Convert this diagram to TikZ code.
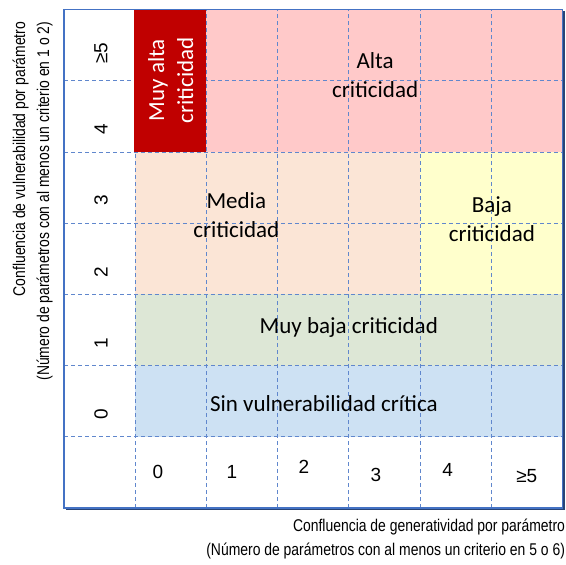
\documentclass[tikz,border=0pt]{standalone}
\usepackage{fontspec}
\setmainfont{Carlito}
\newfontfamily\arialfont{Liberation Sans}
\newfontfamily\narrowfont{Liberation Sans}[FakeStretch=0.82]
\usetikzlibrary{positioning}
\definecolor{gridblue}{RGB}{68, 114, 196}
\definecolor{muyalta}{RGB}{192, 0, 0}
\definecolor{alta}{RGB}{255, 201, 201}
\definecolor{media}{RGB}{251, 229, 214}
\definecolor{baja}{RGB}{255, 255, 204}
\definecolor{muybaja}{RGB}{221, 231, 214}
\definecolor{sinvul}{RGB}{205, 225, 243}

\begin{document}
\begin{tikzpicture}[x=71.2pt, y=71.2pt]
            \tikzstyle{gridline} = [gridblue!85!white, dash pattern=on 4pt off 3pt, line width=0.9pt]
            \tikzstyle{zonelabel} = [font=\fontsize{23}{29}\selectfont, align=center, inner sep=0pt]
            \tikzstyle{axnum} = [font=\arialfont\fontsize{19}{21}\selectfont, inner sep=0pt]
            \tikzstyle{axtitle} = [font=\narrowfont\fontsize{17}{24}\selectfont, align=right, inner sep=0pt]

            \useasboundingbox (-0.899,-0.787) rectangle (7.051,7.135);

            % zonas
            \fill[alta] (1,5) rectangle (7,7);
            \fill[media] (1,3) rectangle (5,5);
            \fill[baja] (5,3) rectangle (7,5);
            \fill[muybaja] (1,2) rectangle (7,3);
            \fill[sinvul] (1,1) rectangle (7,2);

            % rejilla
            \draw[gridline] (0,1) -- (7,1);
            \draw[gridline] (0,2) -- (7,2);
            \draw[gridline] (0,3) -- (7,3);
            \draw[gridline] (0,4) -- (7,4);
            \draw[gridline] (0,5) -- (7,5);
            \draw[gridline] (0,6) -- (7,6);
            \draw[gridline] (1,0) -- (1,7);
            \draw[gridline] (2,0) -- (2,7);
            \draw[gridline] (3,0) -- (3,7);
            \draw[gridline] (4,0) -- (4,7);
            \draw[gridline] (5,0) -- (5,7);
            \draw[gridline] (6,0) -- (6,7);

            \fill[muyalta] (0.98,5) rectangle (2,7);

            % marco
            \draw[gridblue!60!black, line width=1.6pt] (7.02,6.98) -- (7.02,-0.02) -- (0.03,-0.02);
            \draw[gridblue, line width=1.3pt] (0,0) rectangle (7,7);

            \node[zonelabel, text=white, rotate=90] (muyalta) at (1.50,6.01) {Muy alta\\criticidad};
            \node[zonelabel] (alta) at (4.37,6.08) {Alta\\criticidad};
            \node[zonelabel] (media) at (2.42,4.12) {Media\\criticidad};
            \node[zonelabel] (baja) at (6.01,4.06) {Baja\\criticidad};
            \node[zonelabel] (muybaja) at (4.00,2.53) {Muy baja criticidad};
            \node[zonelabel] (sinvul) at (3.65,1.46) {Sin vulnerabilidad crítica};

            % vulnerabilidad
            \node[axnum, rotate=90, anchor=west] (v0) at (0.52,1.24) {0};
            \node[axnum, rotate=90, anchor=west] (v1) at (0.52,2.24) {1};
            \node[axnum, rotate=90, anchor=west] (v2) at (0.52,3.24) {2};
            \node[axnum, rotate=90, anchor=west] (v3) at (0.52,4.24) {3};
            \node[axnum, rotate=90, anchor=west] (v4) at (0.52,5.24) {4};
            \node[axnum, rotate=90, anchor=west] (v5) at (0.52,6.24) {≥5};

            % generatividad
            \node[axnum] (g0) at (1.32,0.51) {0};
            \node[axnum] (g1) at (2.36,0.51) {1};
            \node[axnum] (g2) at (3.37,0.58) {2};
            \node[axnum] (g3) at (4.38,0.46) {3};
            \node[axnum] (g4) at (5.39,0.53) {4};
            \node[axnum] (g5) at (6.50,0.45) {≥5};

            \node[axtitle, anchor=east] (xtitle) at (7.04,-0.435) {Confluencia de generatividad por parámetro\\(Número de parámetros con al menos un criterio en 5 o 6)};
            \node[axtitle, anchor=east, rotate=90] (ytitle) at (-0.44,6.83) {Confluencia de vulnerabilidad por parámetro\\(Número de parámetros con al menos un criterio en 1 o 2)};
        \end{tikzpicture}
\end{document}
